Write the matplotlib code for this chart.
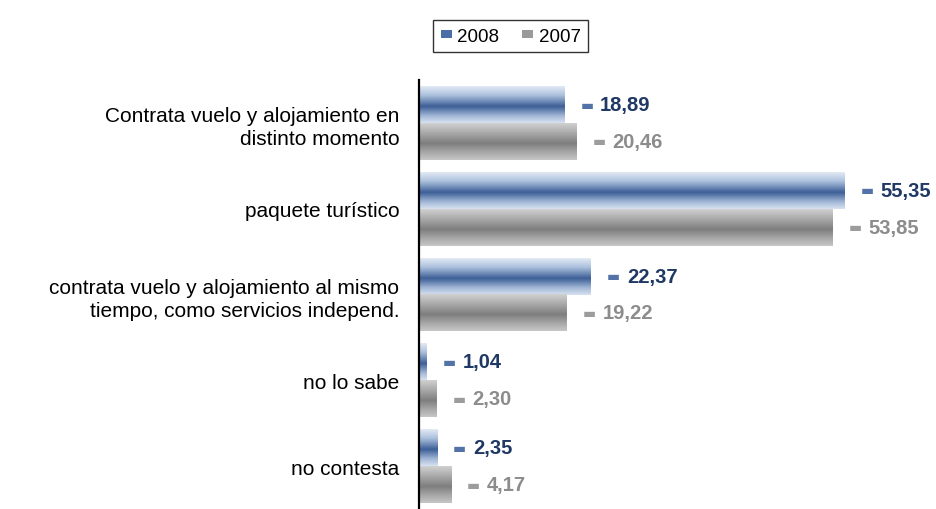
import numpy as np
import matplotlib
matplotlib.use('Agg')
import matplotlib.pyplot as plt
from matplotlib.colors import LinearSegmentedColormap
from matplotlib.patches import Patch

plt.rcParams['font.family'] = ['Liberation Sans', 'DejaVu Sans']

# --- data ---
categories = ['Contrata vuelo y alojamiento en\ndistinto momento',
              'paquete turístico',
              'contrata vuelo y alojamiento al mismo\ntiempo, como servicios independ.',
              'no lo sabe',
              'no contesta']
values_2008 = [18.89, 55.35, 22.37, 1.04, 2.35]
values_2007 = [20.46, 53.85, 19.22, 2.30, 4.17]
series_names = ['2008', '2007']

# cylinder-like shading (top -> bottom)
blue_cmap = LinearSegmentedColormap.from_list(
    'b', [(0, '#e2eaf5'), (0.25, '#aabfdc'), (0.55, '#3c5f96'), (0.8, '#9fb4d4'), (1, '#d6e1f0')])
gray_cmap = LinearSegmentedColormap.from_list(
    'g', [(0, '#d0d0d0'), (0.25, '#ababab'), (0.55, '#7e7e7e'), (0.8, '#a8a8a8'), (1, '#c6c6c6')])
grad = np.linspace(0, 1, 64).reshape(-1, 1)

fig = plt.figure(figsize=(9.37, 5.10), dpi=100)
ax = fig.add_axes([0.447, 0.0, 0.50, 0.841])

n = len(categories)
h = 0.43

for i in range(n):
    for val, off, cmap, col, mcol in [(values_2008[i], -h / 2, blue_cmap, '#1f3864', '#5373a8'),
                                      (values_2007[i], h / 2, gray_cmap, '#8c8c8c', '#9c9c9c')]:
        y0, y1 = i + off - h / 2, i + off + h / 2
        ax.imshow(grad, cmap=cmap, aspect='auto', extent=[0, val, y1, y0],
                  interpolation='bilinear', zorder=2)
        ax.annotate('▬', xy=(val, i + off), xytext=(16.5, 0), textcoords='offset points',
                    va='center', ha='center', fontsize=10, color=mcol,
                    family='DejaVu Sans', annotation_clip=False)
        ax.annotate(f'{val:.2f}'.replace('.', ','), xy=(val, i + off), xytext=(26, 0),
                    textcoords='offset points', va='center', ha='left',
                    fontsize=14.5, fontweight='bold', color=col, annotation_clip=False)

ax.set_xlim(0, 61)
ax.set_ylim(n - 0.5, -0.5)
ax.set_yticks(range(n))
ax.set_yticklabels(categories, fontsize=15, color='black', linespacing=1.3)
ax.tick_params(axis='y', length=0, pad=14)
ax.set_xticks([])
for s in ['top', 'right', 'bottom']:
    ax.spines[s].set_visible(False)
ax.spines['left'].set_linewidth(1.6)
ax.spines['left'].set_color('black')
ax.spines['left'].set_zorder(3)

handles = [Patch(facecolor='#4a6ea6', edgecolor='none'),
           Patch(facecolor='#9a9a9a', edgecolor='none')]
leg = fig.legend(handles, series_names, loc='center', bbox_to_anchor=(0.545, 0.927),
                 ncol=2, frameon=True, fancybox=False, fontsize=13.5,
                 handlelength=0.6, handleheight=0.3, handletextpad=0.3,
                 columnspacing=1.2, borderpad=0.4)
leg.get_frame().set_edgecolor('black')
leg.get_frame().set_linewidth(1.0)

fig.savefig('out.png', dpi=100)
